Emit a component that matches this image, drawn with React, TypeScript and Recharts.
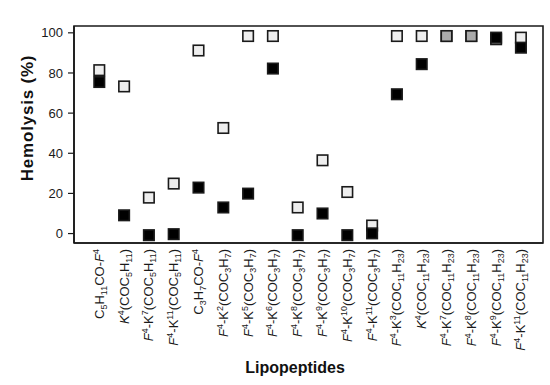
import React from 'react';
import { ScatterChart, Scatter, XAxis, YAxis, ReferenceArea, Label } from 'recharts';

// markup: _12 = subscript digits, ^4 = superscript digits, *F = italic letter
const categories = [
  'C_5H_11CO-*F^4',
  '*K^4(COC_5H_11)',
  '*F^4-K^7(COC_5H_11)',
  '*F^4-K^11(COC_5H_11)',
  'C_3H_7CO-*F^4',
  '*F^4-K^2(COC_3H_7)',
  '*F^4-K^5(COC_3H_7)',
  '*F^4-K^6(COC_3H_7)',
  '*F^4-K^8(COC_3H_7)',
  '*F^4-K^9(COC_3H_7)',
  '*F^4-K^10(COC_3H_7)',
  '*F^4-K^11(COC_3H_7)',
  '*F^4-K^3(COC_11H_23)',
  '*K^4(COC_11H_23)',
  '*F^4-K^7(COC_11H_23)',
  '*F^4-K^8(COC_11H_23)',
  '*F^4-K^9(COC_11H_23)',
  '*F^4-K^11(COC_11H_23)',
];

const openValues = [81.4, 73.3, 17.9, 24.9, 91.2, 52.6, 98.4, 98.4, 13.0, 36.5, 20.7, 4.0, 98.4, 98.4, 98.4, 98.4, 96.8, 97.6];
const filledValues = [75.5, 9.1, -0.8, -0.3, 22.9, 13.0, 19.9, 82.2, -0.8, 10.0, -0.8, 0.1, 69.4, 84.4, 98.4, 98.4, 97.6, 92.6];
const yTicks = [0, 20, 40, 60, 80, 100];

const openData = openValues.map((v, i) => ({ x: i, y: v }));
const filledData = filledValues.map((v, i) => ({ x: i, y: v }));
const xTicks = categories.map((_, i) => i);

const FONT = '"Liberation Sans", Arial, Helvetica, sans-serif';
const X_DOMAIN: [number, number] = [-1.02, 17.89];
const Y_DOMAIN: [number, number] = [-4.7, 103.4];

type Seg = { t: string; kind: 'n' | 'i' | 'sub' | 'sup' };

function parseLabel(s: string): Seg[] {
  const out: Seg[] = [];
  let i = 0;
  let buf = '';
  const flush = () => {
    if (buf) out.push({ t: buf, kind: 'n' });
    buf = '';
  };
  while (i < s.length) {
    const c = s[i];
    if (c === '_' || c === '^') {
      flush();
      let j = i + 1;
      let d = '';
      while (j < s.length && /[0-9]/.test(s[j])) d += s[j++];
      out.push({ t: d, kind: c === '_' ? 'sub' : 'sup' });
      i = j;
    } else if (c === '*') {
      flush();
      out.push({ t: s[i + 1], kind: 'i' });
      i += 2;
    } else {
      buf += c;
      i++;
    }
  }
  flush();
  return out;
}

const CategoryTick = (props: any) => {
  const { x, y, payload } = props;
  const label = categories[payload.value];
  if (!label) return null;
  const segs = parseLabel(label);
  let shift = 0;
  return (
    <text
      transform={`translate(${x},${y}) rotate(-90)`}
      x={0}
      y={4.5}
      textAnchor="end"
      fontFamily={FONT}
      fontSize={13}
      fill="#1a1a1a"
    >
      {segs.map((s, k) => {
        const target = s.kind === 'sub' ? 3 : s.kind === 'sup' ? -5 : 0;
        const dy = target - shift;
        shift = target;
        const small = s.kind === 'sub' || s.kind === 'sup';
        return (
          <tspan
            key={k}
            dy={dy}
            fontSize={small ? 9 : 13}
            fontStyle={s.kind === 'i' ? 'italic' : 'normal'}
          >
            {s.t}
          </tspan>
        );
      })}
    </text>
  );
};

const OpenSquare = (props: any) => {
  const { cx, cy } = props;
  if (cx == null || cy == null) return null;
  return <rect x={cx - 5.25} y={cy - 5.25} width={10.5} height={10.5} fill="#eeeeee" stroke="#1a1a1a" strokeWidth={1.6} />;
};

const FilledSquare = (props: any) => {
  const { cx, cy, payload } = props;
  if (cx == null || cy == null) return null;
  // where both measurements coincide the marker is shown grey
  const same = openValues[payload.x] === payload.y;
  return (
    <rect
      x={cx - 5.25}
      y={cy - 5.25}
      width={10.5}
      height={10.5}
      fill={same ? '#ababab' : '#000000'}
      stroke="#1a1a1a"
      strokeWidth={1.6}
    />
  );
};

export default function App() {
  return (
    <div style={{ position: 'absolute', left: 0, top: 0, width: 550, height: 385, background: '#fff' }}>
      <ScatterChart width={550} height={385} margin={{ top: 26, right: 7, bottom: 0, left: 0 }}>
        <XAxis
          type="number"
          dataKey="x"
          domain={X_DOMAIN}
          allowDataOverflow
          ticks={xTicks}
          interval={0}
          height={142}
          tickLine={false}
          tickSize={0}
          tickMargin={6}
          axisLine={{ stroke: '#1a1a1a', strokeWidth: 1.6 }}
          tick={<CategoryTick />}
        >
          <Label
            content={() => (
              <text x={295} y={373} textAnchor="middle" fontFamily={FONT} fontSize={16} fontWeight="bold" fill="#111">
                Lipopeptides
              </text>
            )}
          />
        </XAxis>
        <YAxis
          type="number"
          dataKey="y"
          domain={Y_DOMAIN}
          allowDataOverflow
          ticks={yTicks}
          width={74}
          tickSize={6}
          tickMargin={5}
          tickLine={{ stroke: '#1a1a1a', strokeWidth: 1.2 }}
          axisLine={{ stroke: '#1a1a1a', strokeWidth: 1.6 }}
          tick={{ fontFamily: FONT, fontSize: 13, fill: '#1a1a1a' }}
        >
          <Label
            content={() => (
              <text
                transform="translate(33,118) rotate(-90)"
                textAnchor="middle"
                fontFamily={FONT}
                fontSize={17}
                fontWeight="bold"
                letterSpacing={0.8}
                fill="#111"
              >
                Hemolysis (%)
              </text>
            )}
          />
        </YAxis>
        <ReferenceArea
          x1={X_DOMAIN[0]}
          x2={X_DOMAIN[1]}
          y1={Y_DOMAIN[0]}
          y2={Y_DOMAIN[1]}
          fill="none"
          stroke="#1a1a1a"
          strokeWidth={1.6}
          ifOverflow="visible"
        />
        <Scatter data={openData} shape={<OpenSquare />} isAnimationActive={false} />
        <Scatter data={filledData} shape={<FilledSquare />} isAnimationActive={false} />
      </ScatterChart>
    </div>
  );
}
